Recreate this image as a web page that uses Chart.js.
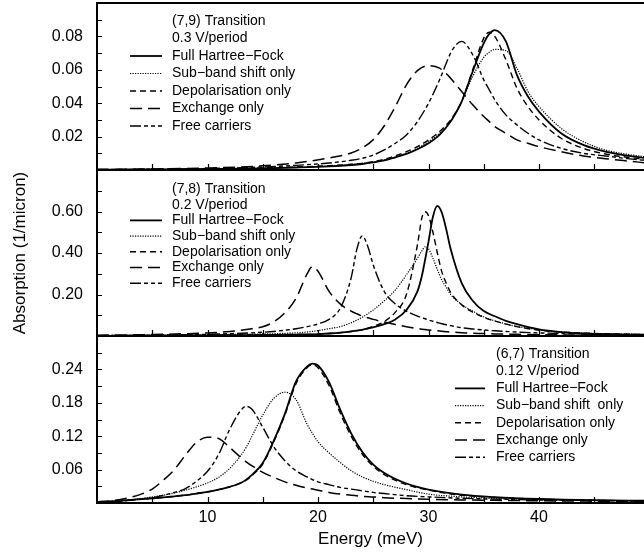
<!DOCTYPE html>
<html>
<head>
<meta charset="utf-8">
<script src="https://cdn.jsdelivr.net/npm/chart.js@4.4.1/dist/chart.umd.min.js"></script>
<style>
  html, body { margin: 0; padding: 0; background: #fff; }
  #wrap { position: relative; width: 644px; height: 555px; background: #fff; }
  #wrap canvas { position: absolute; left: 0; top: 0; }
</style>
</head>
<body>
<div id="wrap">
  <canvas id="top" width="644" height="555"></canvas>
  <canvas id="mid" width="644" height="555"></canvas>
  <canvas id="bot" width="644" height="555"></canvas>
</div>
<script>
// (7,9) transition, 0.3 V/period
const topEnergy   = [0, 5, 10, 15, 18, 21, 23, 24, 25, 26, 27, 28, 29, 30, 31, 32, 32.5, 33, 34, 35, 35.5, 36, 37, 38, 39, 40, 42, 44, 46, 48, 49.5];
const topFullHF   = [.0002, .0003, .0005, .001, .0015, .0022, .003, .0036, .0045, .0057, .0076, .0096, .0124, .016, .021, .029, .0345, .041, .059, .076, .0815, .0838, .077, .057, .044, .035, .022, .015, .011, .0086, .0072];
const topSubband  = [.0002, .0003, .0006, .0011, .0016, .0024, .0032, .004, .0048, .006, .0078, .010, .013, .017, .022, .029, .0345, .041, .056, .0675, .0705, .0722, .0715, .061, .047, .038, .025, .017, .012, .0094, .008];
const topDepol    = [.0002, .0003, .0006, .0012, .0018, .0026, .0034, .004, .005, .0065, .0085, .011, .014, .018, .023, .030, .035, .041, .060, .079, .0825, .080, .066, .049, .038, .030, .019, .013, .0096, .0076, .0064];
const topExchange = [.0003, .0006, .0012, .0025, .0042, .0072, .0102, .0132, .0182, .0265, .038, .051, .0595, .0625, .061, .055, .051, .047, .039, .032, .029, .026, .022, .018, .016, .014, .011, .0084, .0068, .0054, .0044];
const topFree     = [.0003, .0005, .0009, .0018, .0028, .0042, .0058, .007, .009, .012, .016, .021, .029, .040, .054, .070, .075, .077, .069, .054, .048, .042, .033, .027, .022, .018, .013, .010, .0084, .0068, .0058];

// (7,8) transition, 0.2 V/period
const midEnergy   = [0, 5, 10, 12, 14, 15, 16, 17, 18, 19, 19.5, 20, 21, 22, 23, 23.5, 24, 24.5, 25, 26, 27, 28, 29, 29.4, 29.7, 30, 30.4, 30.8, 31.2, 31.6, 32, 33, 34, 35, 36, 37, 38, 40, 42, 44, 46, 48, 49.5];
const midFullHF   = [.001, .002, .003, .0035, .0045, .005, .0055, .006, .0065, .0075, .008, .009, .012, .016, .022, .026, .030, .036, .042, .057, .080, .125, .215, .29, .37, .455, .575, .627, .595, .515, .42, .255, .17, .12, .095, .073, .057, .032, .019, .012, .009, .007, .006];
const midSubband  = [.002, .004, .006, .0075, .009, .010, .011, .013, .015, .019, .022, .026, .035, .045, .064, .076, .090, .107, .125, .170, .222, .295, .375, .41, .43, .42, .375, .32, .27, .235, .20, .152, .12, .092, .073, .058, .046, .030, .020, .014, .011, .009, .008];
const midDepol    = [.001, .002, .003, .004, .005, .0055, .006, .0065, .007, .0075, .008, .009, .012, .016, .022, .026, .031, .038, .046, .070, .115, .20, .44, .57, .599, .58, .50, .40, .31, .255, .21, .15, .115, .09, .072, .057, .045, .028, .019, .014, .011, .0085, .0075];
const midExchange = [.004, .007, .015, .022, .035, .045, .068, .112, .18, .298, .334, .312, .215, .155, .120, .107, .096, .088, .080, .067, .055, .045, .036, .033, .031, .029, .027, .025, .023, .021, .019, .016, .013, .012, .010, .009, .008, .0065, .0055, .0045, .004, .0035, .003];
const midFree     = [.002, .004, .008, .011, .015, .018, .022, .028, .035, .045, .051, .058, .080, .133, .28, .415, .482, .433, .342, .214, .154, .120, .096, .088, .083, .077, .071, .065, .059, .054, .050, .040, .034, .029, .025, .022, .019, .015, .012, .010, .0085, .0072, .0065];

// (6,7) transition, 0.12 V/period
const botEnergy   = [0, 2, 4, 5, 6, 7, 8, 9, 10, 11, 12, 13, 13.5, 14, 15, 16, 17, 18, 19, 19.5, 20, 21, 22, 23, 24, 25, 26, 28, 30, 33, 36, 40, 45, 49.5];
const botFullHF   = [.001, .004, .007, .0085, .010, .012, .014, .017, .020, .024, .029, .036, .042, .050, .072, .112, .160, .218, .245, .2505, .247, .217, .168, .125, .092, .069, .054, .035, .024, .015, .0105, .0072, .005, .004];
const botSubband  = [.002, .004, .008, .011, .014, .018, .023, .029, .036, .046, .062, .085, .10, .119, .158, .188, .199, .186, .142, .125, .110, .090, .073, .058, .047, .039, .033, .024, .016, .011, .008, .006, .0045, .004];
const botDepol    = [.001, .004, .007, .0085, .010, .012, .014, .017, .020, .024, .029, .036, .041, .049, .070, .110, .158, .214, .243, .248, .243, .211, .162, .120, .088, .066, .051, .033, .023, .014, .010, .0068, .0047, .0038];
const botExchange = [.002, .006, .016, .025, .041, .060, .086, .109, .118, .116, .100, .082, .074, .067, .055, .046, .038, .032, .027, .025, .023, .019, .016, .014, .012, .011, .0095, .008, .0066, .0055, .0048, .004, .0033, .0028];
const botFree     = [.001, .003, .0066, .009, .014, .019, .026, .039, .057, .087, .132, .166, .1736, .169, .136, .101, .076, .058, .047, .042, .038, .033, .028, .025, .022, .019, .017, .013, .011, .0085, .007, .0055, .0045, .004];

const xTickLabels = [10, 20, 30, 40];
const xTickMarks = [5, 10, 15, 20, 25, 30, 35, 40, 45];
const topTickLabels = [0.02, 0.04, 0.06, 0.08];
const topTickMarks = [0.01, 0.02, 0.03, 0.04, 0.05, 0.06, 0.07, 0.08, 0.09];
const midTickLabels = [0.2, 0.4, 0.6];
const midTickMarks = [0.1, 0.2, 0.3, 0.4, 0.5, 0.6, 0.7];
const botTickLabels = [0.06, 0.12, 0.18, 0.24];
const botTickMarks = [0.03, 0.06, 0.09, 0.12, 0.15, 0.18, 0.21, 0.24, 0.27];

const seriesNames = ['Full Hartree\u2212Fock', 'Sub\u2212band shift only', 'Depolarisation only', 'Exchange only', 'Free carriers'];
const seriesNamesBot = ['Full Hartree\u2212Fock', 'Sub\u2212band shift  only', 'Depolarisation only', 'Exchange only', 'Free carriers'];

const FONT = '"Liberation Sans", Arial, Helvetica, sans-serif';
const lineStyles = [
  { width: 1.8, dash: [] },
  { width: 1.2, dash: [1.2, 1.3] },
  { width: 1.4, dash: [6, 4] },
  { width: 1.5, dash: [12, 6] },
  { width: 1.4, dash: [11, 3, 4, 3, 4, 3] }
];

const panelPlugin = {
  id: 'panel',
  afterDraw(chart, args, opts) {
    const { ctx, chartArea: a } = chart;
    const x = chart.scales.x, y = chart.scales.y;
    ctx.save();
    ctx.strokeStyle = '#000';
    ctx.setLineDash([]);
    ctx.lineWidth = 2;
    ctx.beginPath();
    ctx.moveTo(a.right, a.top);
    ctx.lineTo(a.left, a.top);
    ctx.lineTo(a.left, a.bottom);
    ctx.lineTo(a.right, a.bottom);
    ctx.stroke();

    // inward tick marks
    ctx.lineWidth = 1.2;
    ctx.beginPath();
    xTickMarks.forEach(v => {
      const px = Math.round(x.getPixelForValue(v)) + 0.5;
      ctx.moveTo(px, a.bottom);
      ctx.lineTo(px, a.bottom - 6);
    });
    opts.yMarks.forEach(v => {
      const py = Math.round(y.getPixelForValue(v)) + 0.5;
      ctx.moveTo(a.left, py);
      ctx.lineTo(a.left + 5, py);
    });
    ctx.stroke();

    // legend block
    const L = opts.legend;
    ctx.font = '14px ' + FONT;
    ctx.fillStyle = '#000';
    ctx.textAlign = 'left';
    ctx.textBaseline = 'middle';
    L.title.forEach((t, i) => ctx.fillText(t, L.textX, L.y0 + i * L.dy));
    L.names.forEach((t, i) => {
      const yy = L.y0 + (i + 2) * L.dy;
      ctx.fillText(t, L.textX, yy);
      ctx.lineWidth = lineStyles[i].width;
      ctx.setLineDash(lineStyles[i].dash);
      ctx.beginPath();
      ctx.moveTo(L.lineX0, yy);
      ctx.lineTo(L.lineX1, yy);
      ctx.stroke();
    });
    ctx.restore();
  }
};

function makePanel(id, p) {
  const datasets = p.series.map((vals, i) => ({
    label: p.names[i],
    data: p.energy.map((e, j) => ({ x: e, y: vals[j] })),
    borderColor: '#000',
    borderWidth: lineStyles[i].width,
    borderDash: lineStyles[i].dash,
    pointRadius: 0,
    fill: false,
    cubicInterpolationMode: 'monotone'
  }));
  return new Chart(document.getElementById(id), {
    type: 'line',
    data: { datasets },
    plugins: [panelPlugin],
    options: {
      responsive: false,
      animation: false,
      events: [],
      layout: { padding: p.padding },
      plugins: {
        legend: { display: false },
        tooltip: { enabled: false },
        panel: { yMarks: p.yMarks, legend: p.legend }
      },
      scales: {
        x: {
          type: 'linear', min: 0, max: 49.5,
          display: p.showX,
          afterBuildTicks: s => { s.ticks = xTickLabels.map(v => ({ value: v })); },
          afterFit: s => {
            s.height = p.showX ? 52 : 0;
            s.paddingLeft = 0; s.paddingRight = 0;
          },
          grid: { display: false, drawTicks: false },
          border: { display: false },
          ticks: { color: '#000', padding: 5, font: { family: FONT, size: 16 }, maxRotation: 0 },
          title: { display: true, text: 'Energy (meV)', color: '#000', font: { family: FONT, size: 17 }, padding: { top: 0, bottom: 5 } }
        },
        y: {
          type: 'linear', min: 0, max: p.yMax,
          afterBuildTicks: s => { s.ticks = p.yLabels.map(v => ({ value: v })); },
          afterFit: s => {
            s.width = 97;
            s.paddingTop = 0; s.paddingBottom = 0;
          },
          grid: { display: false, drawTicks: false },
          border: { display: false },
          ticks: { color: '#000', padding: 14, font: { family: FONT, size: 16 }, callback: v => v.toFixed(2) },
          title: { display: p.showYTitle, text: 'Absorption (1/micron)', color: '#000', font: { family: FONT, size: 17 }, padding: { top: 10, bottom: 0 } }
        }
      }
    }
  });
}

makePanel('top', {
  energy: topEnergy,
  series: [topFullHF, topSubband, topDepol, topExchange, topFree],
  names: seriesNames,
  yMax: 0.1, yLabels: topTickLabels, yMarks: topTickMarks,
  padding: { top: 3, bottom: 385, left: 0, right: 0 },
  showX: false, showYTitle: false,
  legend: { title: ['(7,9) Transition', '0.3 V/period'], names: seriesNames, textX: 172, lineX0: 130, lineX1: 162, y0: 21, dy: 17.5 }
});

makePanel('mid', {
  energy: midEnergy,
  series: [midFullHF, midSubband, midDepol, midExchange, midFree],
  names: seriesNames,
  yMax: 0.8, yLabels: midTickLabels, yMarks: midTickMarks,
  padding: { top: 170, bottom: 219, left: 0, right: 0 },
  showX: false, showYTitle: true,
  legend: { title: ['(7,8) Transition', '0.2 V/period'], names: seriesNames, textX: 172, lineX0: 130, lineX1: 162, y0: 189, dy: 15.7 }
});

makePanel('bot', {
  energy: botEnergy,
  series: [botFullHF, botSubband, botDepol, botExchange, botFree],
  names: seriesNamesBot,
  yMax: 0.3, yLabels: botTickLabels, yMarks: botTickMarks,
  padding: { top: 336, bottom: 0, left: 0, right: 0 },
  showX: true, showYTitle: false,
  legend: { title: ['(6,7) Transition', '0.12 V/period'], names: seriesNamesBot, textX: 496, lineX0: 455, lineX1: 485, y0: 354, dy: 17.2 }
});
</script>
</body>
</html>
